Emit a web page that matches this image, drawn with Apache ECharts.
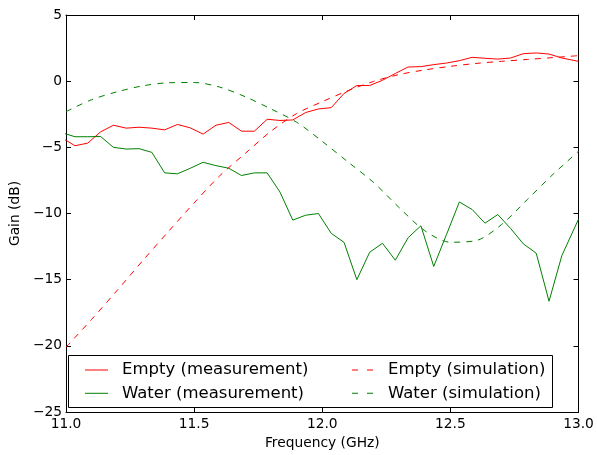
<!DOCTYPE html>
<html>
<head>
<meta charset="utf-8">
<title>Gain vs frequency</title>
<script src="https://cdn.jsdelivr.net/npm/echarts@6/dist/echarts.min.js"></script>
<style>
  html, body { margin: 0; padding: 0; background: #fff; }
  #chart { width: 597px; height: 455px; }
</style>
</head>
<body>
<div id="chart"></div>
<script>
// measured sweep (GHz) and gains (dB)
const measFreq = [10.985, 11.035, 11.085, 11.135, 11.185, 11.235, 11.285, 11.335, 11.385, 11.435,
  11.485, 11.535, 11.585, 11.635, 11.685, 11.735, 11.785, 11.835, 11.885, 11.935,
  11.985, 12.035, 12.085, 12.135, 12.185, 12.235, 12.285, 12.335, 12.385, 12.435,
  12.485, 12.535, 12.585, 12.635, 12.685, 12.735, 12.785, 12.835, 12.885, 12.935, 13.0];
const emptyMeas = [-4.3, -4.88, -4.68, -3.83, -3.33, -3.55, -3.48, -3.55, -3.68, -3.27,
  -3.53, -4.0, -3.33, -3.12, -3.78, -3.78, -2.88, -2.97, -2.93, -2.37,
  -2.1, -2.0, -0.93, -0.33, -0.33, 0.07, 0.58, 1.07, 1.1, 1.25,
  1.37, 1.55, 1.8, 1.73, 1.67, 1.75, 2.08, 2.13, 2.05, 1.75, 1.5];
const waterMeas = [-3.9, -4.2, -4.2, -4.18, -5.0, -5.13, -5.1, -5.38, -6.93, -7.0,
  -6.58, -6.13, -6.38, -6.58, -7.13, -6.93, -6.93, -8.38, -10.5, -10.13,
  -10.0, -11.5, -12.18, -15.0, -12.93, -12.25, -13.53, -11.83, -10.93, -14.0,
  -11.58, -9.13, -9.7, -10.73, -10.08, -11.13, -12.3, -13.0, -16.63, -13.18, -10.43];

// simulation
const simFreq = [11.0, 11.1, 11.2, 11.3, 11.4, 11.5, 11.6, 11.7, 11.8, 11.9, 12.0,
  12.1, 12.2, 12.3, 12.4, 12.5, 12.6, 12.7, 12.8, 12.9, 13.0];
const emptySim = [-20.1, -18.0, -15.8, -13.55, -11.35, -9.2, -7.15, -5.45, -3.78, -2.45, -1.55,
  -0.72, -0.02, 0.5, 0.85, 1.12, 1.34, 1.5, 1.64, 1.78, 1.93];
const waterSim = [-2.3, -1.4, -0.8, -0.35, -0.12, -0.1, -0.45, -1.18, -2.1, -3.1, -4.55,
  -6.1, -7.65, -9.55, -11.3, -12.17, -12.05, -10.83, -8.95, -7.05, -5.3];

const names = ['Empty (measurement)', 'Water (measurement)', 'Empty (simulation)', 'Water (simulation)'];

const FONT = 'DejaVu Sans';
const RED = '#ff0000';
const GREEN = '#008000';
// legend handles: a plain stroke and a two-dash stroke
const SOLID_ICON = 'path://M0 0H23V1H0Z';
const DASH_ICON = 'path://M0 0H6V1H0Z M15 0H21V1H15Z';

function pairs(xs, ys) {
  return xs.map((x, i) => [x, ys[i]]);
}

function minusFmt(v) {
  return v < 0 ? '\u2212' + Math.abs(v) : String(v);
}

const chart = echarts.init(document.getElementById('chart'), null, { renderer: 'canvas' });

const xBase = {
  type: 'value',
  min: 11,
  max: 13,
  interval: 0.5,
  axisLine: { show: true, onZero: false, lineStyle: { color: '#000', width: 1 } },
  axisTick: { show: true, inside: true, length: 5, lineStyle: { color: '#000' } },
  splitLine: { show: false },
};
const yBase = {
  type: 'value',
  min: -25,
  max: 5,
  interval: 5,
  axisLine: { show: true, onZero: false, lineStyle: { color: '#000', width: 1 } },
  axisTick: { show: true, inside: true, length: 5, lineStyle: { color: '#000' } },
  splitLine: { show: false },
};

function lineSeries(name, data, color, dashed) {
  return {
    name,
    type: 'line',
    data,
    symbol: 'none',
    showSymbol: false,
    smooth: dashed ? 0.3 : false,
    clip: true,
    lineStyle: { color, width: 1, type: dashed ? [6, 6] : 'solid' },
    itemStyle: { color },
    z: 2,
  };
}

const legendText = { fontFamily: FONT, fontSize: 16.5, color: '#000', lineHeight: 20, padding: [0, 0, 0, 9] };

function legendBlock(items, left, icon) {
  return {
    data: items.map((n) => ({ name: n, icon })),
    orient: 'vertical',
    left,
    top: 355,
    itemWidth: 23,
    itemHeight: 1,
    itemGap: 3.3,
    selectedMode: false,
    itemStyle: { borderWidth: 0 },
    lineStyle: { width: 0 },
    textStyle: legendText,
    z: 20,
  };
}

const option = {
  animation: false,
  backgroundColor: '#fff',
  grid: { left: 60, right: 18.5, top: 15, bottom: 40 },
  xAxis: [
    Object.assign({}, xBase, {
      position: 'bottom',
      name: 'Frequency (GHz)',
      nameLocation: 'middle',
      nameGap: 24,
      nameTextStyle: { fontFamily: FONT, fontSize: 13.8, color: '#000' },
      axisLabel: {
        margin: 5,
        fontFamily: FONT,
        fontSize: 13.8,
        color: '#000',
        formatter: (v) => v.toFixed(1),
      },
    }),
    Object.assign({}, xBase, { position: 'top', axisLabel: { show: false } }),
  ],
  yAxis: [
    Object.assign({}, yBase, {
      position: 'left',
      name: 'Gain (dB)',
      nameLocation: 'middle',
      nameGap: 28,
      nameTextStyle: { fontFamily: FONT, fontSize: 13.8, color: '#000' },
      axisLabel: {
        margin: 4,
        fontFamily: FONT,
        fontSize: 13.8,
        color: '#000',
        formatter: minusFmt,
      },
    }),
    Object.assign({}, yBase, { position: 'right', axisLabel: { show: false } }),
  ],
  legend: [
    legendBlock([names[0], names[1]], 80, SOLID_ICON),
    legendBlock([names[2], names[3]], 347, DASH_ICON),
  ],
  graphic: [
    {
      type: 'rect',
      shape: { x: 68.5, y: 355.5, width: 484, height: 52 },
      style: { fill: '#fff', stroke: '#000', lineWidth: 1 },
      z: 10,
      silent: true,
    },
  ],
  series: [
    lineSeries(names[0], pairs(measFreq, emptyMeas), RED, false),
    lineSeries(names[1], pairs(measFreq, waterMeas), GREEN, false),
    lineSeries(names[2], pairs(simFreq, emptySim), RED, true),
    lineSeries(names[3], pairs(simFreq, waterSim), GREEN, true),
  ],
};

chart.setOption(option);
</script>
</body>
</html>
